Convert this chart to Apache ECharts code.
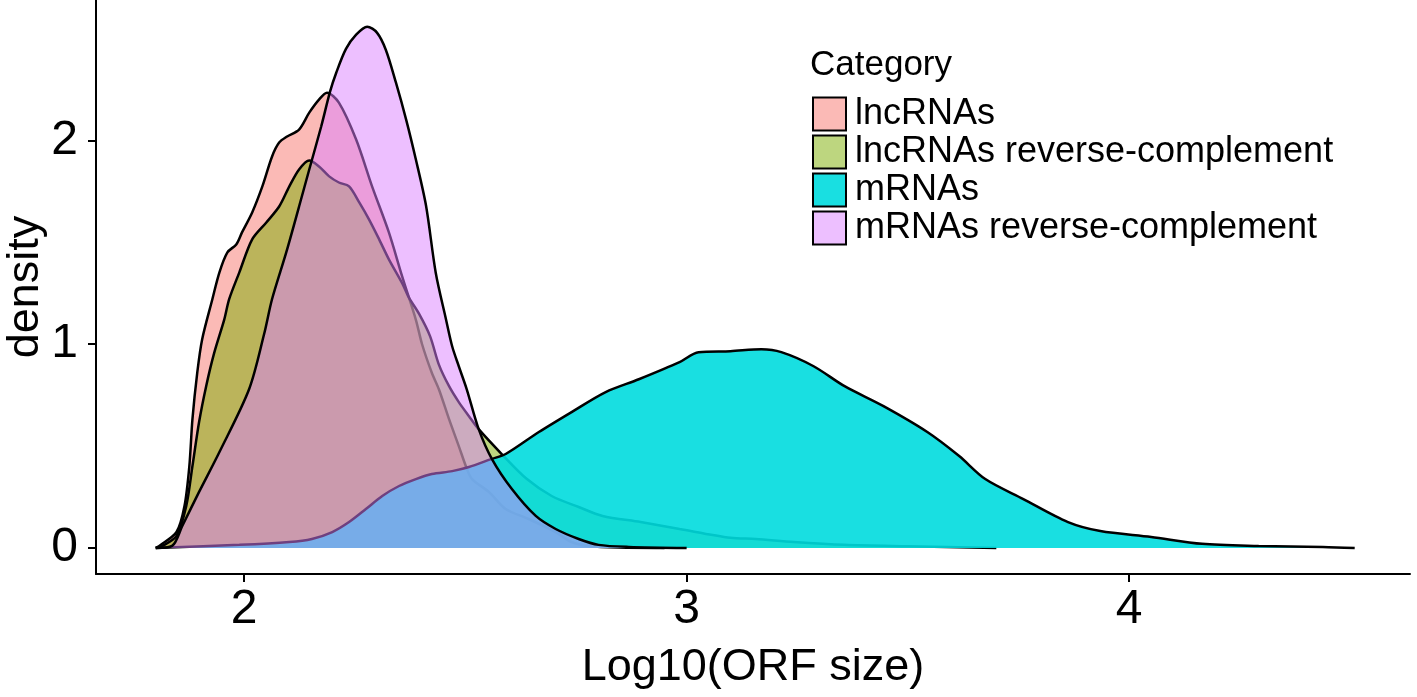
<!DOCTYPE html>
<html>
<head>
<meta charset="utf-8">
<title>ORF size density</title>
<script src="https://cdn.jsdelivr.net/npm/echarts@6/dist/echarts.min.js"></script>
<style>
  html, body { margin: 0; padding: 0; background: #fff; }
  #chart { width: 1417px; height: 697px; }
</style>
</head>
<body>
<div id="chart"></div>
<script>
// categories and colours
var categories = ['lncRNAs', 'lncRNAs reverse-complement', 'mRNAs', 'mRNAs reverse-complement'];
var fills = ['rgba(248,118,109,0.5)', 'rgba(124,174,0,0.5)', 'rgba(0,220,222,0.9)', 'rgba(220,128,255,0.5)'];

// density curves (x = log10 ORF size)
var lncX = [1.80, 1.808, 1.847, 1.865, 1.876, 1.883, 1.894, 1.905, 1.928, 1.944, 1.962, 1.982, 1.995, 2.018, 2.041, 2.063, 2.079, 2.097, 2.124, 2.147, 2.169, 2.187, 2.214, 2.253, 2.289, 2.327, 2.357, 2.388, 2.402, 2.424, 2.440, 2.463, 2.485, 2.503, 2.515, 2.553, 2.591, 2.643, 2.704, 2.740, 2.779, 2.846, 2.95];
var lncY = [0, 0.01, 0.078, 0.206, 0.402, 0.632, 0.863, 1.025, 1.221, 1.353, 1.451, 1.49, 1.549, 1.647, 1.775, 1.922, 1.99, 2.02, 2.054, 2.137, 2.201, 2.235, 2.186, 2.005, 1.775, 1.549, 1.333, 1.12, 1.0, 0.86, 0.779, 0.632, 0.5, 0.39, 0.338, 0.275, 0.191, 0.142, 0.078, 0.029, 0.01, 0.002, 0];

var lncRevX = [1.80, 1.815, 1.847, 1.869, 1.883, 1.898, 1.914, 1.932, 1.955, 1.966, 1.989, 2.018, 2.050, 2.079, 2.102, 2.124, 2.147, 2.169, 2.192, 2.214, 2.237, 2.260, 2.282, 2.305, 2.327, 2.357, 2.372, 2.395, 2.420, 2.440, 2.463, 2.485, 2.508, 2.530, 2.582, 2.639, 2.695, 2.756, 2.810, 2.896, 2.984, 3.099, 3.156, 3.242, 3.357, 3.501, 3.70];
var lncRevY = [0, 0.01, 0.059, 0.206, 0.402, 0.618, 0.794, 0.956, 1.122, 1.221, 1.353, 1.515, 1.598, 1.676, 1.775, 1.858, 1.902, 1.873, 1.824, 1.794, 1.775, 1.696, 1.613, 1.515, 1.417, 1.30, 1.23, 1.15, 1.04, 0.90, 0.794, 0.716, 0.647, 0.583, 0.461, 0.338, 0.255, 0.201, 0.157, 0.127, 0.093, 0.05, 0.044, 0.029, 0.015, 0.008, 0];

var mrnaX = [1.80, 1.989, 2.102, 2.153, 2.199, 2.237, 2.275, 2.312, 2.350, 2.388, 2.424, 2.470, 2.508, 2.558, 2.591, 2.666, 2.740, 2.817, 2.892, 2.984, 3.027, 3.099, 3.169, 3.214, 3.287, 3.357, 3.445, 3.544, 3.616, 3.675, 3.761, 3.862, 3.935, 4.050, 4.165, 4.293, 4.438, 4.51];
var mrnaY = [0, 0.015, 0.029, 0.044, 0.078, 0.127, 0.191, 0.255, 0.304, 0.338, 0.363, 0.377, 0.397, 0.436, 0.461, 0.569, 0.667, 0.765, 0.828, 0.912, 0.961, 0.966, 0.975, 0.961, 0.892, 0.794, 0.696, 0.569, 0.451, 0.338, 0.240, 0.127, 0.083, 0.054, 0.020, 0.010, 0.005, 0];

var mrnaRevX = [1.80, 1.837, 1.860, 1.898, 1.944, 2.011, 2.045, 2.063, 2.095, 2.124, 2.147, 2.174, 2.194, 2.208, 2.230, 2.253, 2.278, 2.300, 2.320, 2.343, 2.366, 2.388, 2.411, 2.433, 2.456, 2.470, 2.485, 2.503, 2.530, 2.560, 2.605, 2.659, 2.704, 2.756, 2.801, 2.869, 3.0];
var mrnaRevY = [0, 0.01, 0.108, 0.275, 0.471, 0.779, 1.05, 1.222, 1.451, 1.676, 1.858, 2.069, 2.24, 2.333, 2.45, 2.52, 2.559, 2.53, 2.446, 2.284, 2.103, 1.907, 1.68, 1.35, 1.123, 0.99, 0.892, 0.779, 0.583, 0.436, 0.289, 0.157, 0.093, 0.044, 0.015, 0.005, 0];

// tick labels
var xTicks = [2, 3, 4];
var yTicks = [0, 1, 2];

function zip(xs, ys) {
  return xs.map(function (x, i) { return [x, ys[i]]; });
}

var curves = [zip(lncX, lncY), zip(lncRevX, lncRevY), zip(mrnaX, mrnaY), zip(mrnaRevX, mrnaRevY)];

var chart = echarts.init(document.getElementById('chart'));

var font = 'Liberation Sans, Arial, Helvetica, sans-serif';

var option = {
  backgroundColor: '#fff',
  animation: false,
  textStyle: { fontFamily: font, color: '#000' },
  title: {
    text: 'Category',
    left: 810,
    top: 48,
    padding: 0,
    textStyle: { fontFamily: font, fontSize: 35, fontWeight: 'normal', color: '#000' }
  },
  legend: {
    orient: 'vertical',
    left: 812,
    top: 96,
    padding: 0,
    itemWidth: 33,
    itemHeight: 33,
    itemGap: 2,
    icon: 'rect',
    selectedMode: false,
    itemStyle: { borderColor: '#000', borderWidth: 2 },
    textStyle: { fontFamily: font, fontSize: 36, color: '#000', padding: [0, 0, 0, 4] },
    data: categories.map(function (c, i) {
      return { name: c, itemStyle: { color: fills[i] } };
    })
  },
  grid: { left: 96, right: 7, top: 0, bottom: 123, outerBoundsMode: 'none', containLabel: false },
  xAxis: {
    type: 'value',
    min: 1.665,
    max: 4.635,
    name: 'Log10(ORF size)',
    nameLocation: 'middle',
    nameGap: 71,
    nameMoveOverlap: false,
    nameTextStyle: { fontFamily: font, fontSize: 45, color: '#000' },
    axisLine: { onZero: false, lineStyle: { color: '#000', width: 2 } },
    axisTick: { show: true, length: 8, lineStyle: { color: '#000', width: 2 }, customValues: xTicks },
    axisLabel: { fontFamily: font, fontSize: 48, color: '#000', margin: 12, customValues: xTicks },
    splitLine: { show: false }
  },
  yAxis: {
    type: 'value',
    min: -0.128,
    max: 2.69,
    name: 'density',
    nameLocation: 'middle',
    nameGap: 48,
    nameMoveOverlap: false,
    nameTextStyle: { fontFamily: font, fontSize: 45, color: '#000' },
    axisLine: { show: true, onZero: false, lineStyle: { color: '#000', width: 2 } },
    axisTick: { show: true, length: 8, lineStyle: { color: '#000', width: 2 }, customValues: yTicks },
    axisLabel: { fontFamily: font, fontSize: 48, color: '#000', margin: 18, customValues: yTicks },
    splitLine: { show: false }
  },
  series: categories.map(function (c, i) {
    return {
      name: c,
      type: 'line',
      data: curves[i],
      z: 2 + i,
      smooth: 0.3,
      symbol: 'none',
      showSymbol: false,
      itemStyle: { color: fills[i] },
      lineStyle: { color: '#000', width: 2.5 },
      areaStyle: { color: fills[i], opacity: 1 },
      emphasis: { disabled: true }
    };
  })
};

chart.setOption(option);
</script>
</body>
</html>
